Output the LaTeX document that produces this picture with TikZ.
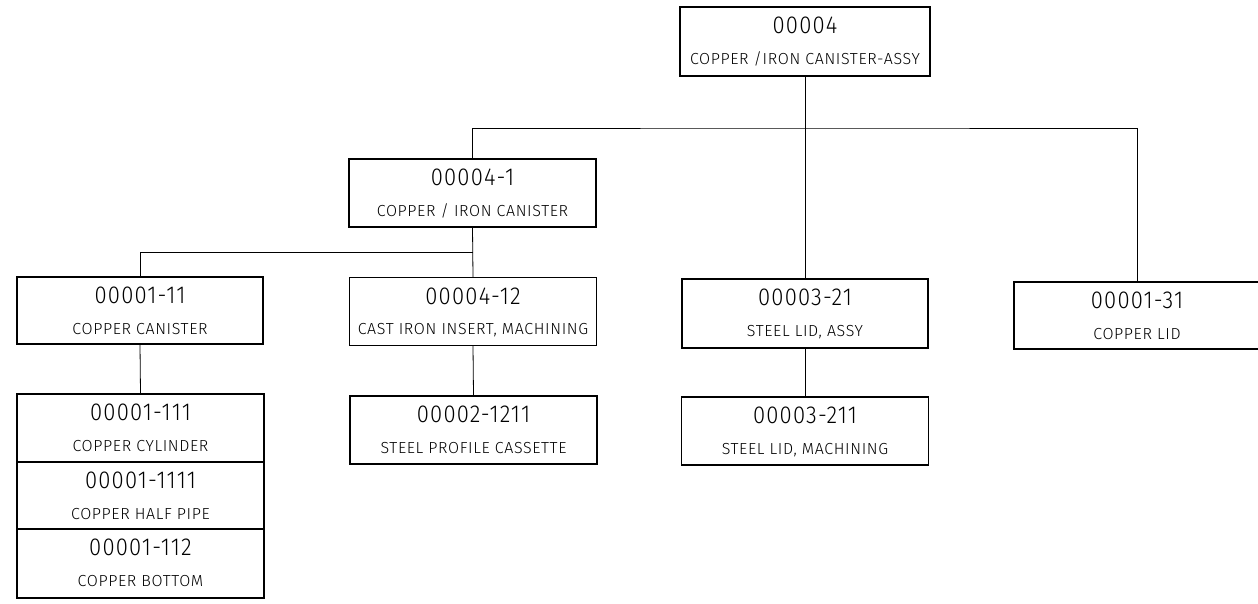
\documentclass[tikz,border=0pt]{standalone}
\usepackage{fontspec}
\setmainfont{Fira Sans Light}[LetterSpace=4]
\newfontfamily\numfont{Fira Sans Light}[FakeStretch=0.9,LetterSpace=5]
\begin{document}
\begin{tikzpicture}[x=1pt,y=-1pt,
  box/.style={draw, line width=1.1pt, rectangle, inner sep=0pt, minimum width=247pt, minimum height=68pt},
  num/.style={inner sep=0pt, text height=17pt, text depth=0pt, font=\numfont\fontsize{24.5}{24.5}\selectfont},
  desc/.style={inner sep=0pt, text height=11pt, text depth=0pt, font=\fontsize{16}{16}\selectfont},
  conn/.style={draw, line width=0.8pt}]
\useasboundingbox (0,0) rectangle (1258,604);
% boxes
\node[box, minimum width=250pt, minimum height=69pt] (top) at (805,41.5) {};
\node[box] (n1) at (472.5,193) {};
\node[box, minimum width=246pt, minimum height=67pt] (n11) at (140,310.5) {};
\node[box] (n12) at (473,311.5) {};
\node[box, minimum width=246pt, minimum height=69pt] (n21) at (805,313.5) {};
\node[box, minimum width=246pt, minimum height=67pt] (n31) at (1137,315.5) {};
\node[box, minimum height=68pt] (n111) at (140.5,428) {};
\node[box, minimum height=67pt] (n1111) at (140.5,495.5) {};
\node[box, minimum height=69pt] (n112) at (140.5,563.5) {};
\node[box] (n1211) at (473.5,430) {};
\node[box] (n211) at (805,431) {};
% texts
\foreach \b/\n/\d in {top/00004/{COPPER /IRON CANISTER-ASSY},
                      n1/00004-1/{COPPER / IRON CANISTER},
                      n11/00001-11/{COPPER CANISTER},
                      n12/00004-12/{CAST IRON INSERT, MACHINING},
                      n21/00003-21/{STEEL LID, ASSY},
                      n31/00001-31/{COPPER LID},
                      n111/00001-111/{COPPER CYLINDER},
                      n1111/00001-1111/{COPPER HALF PIPE},
                      n112/00001-112/{COPPER BOTTOM},
                      n1211/00002-1211/{STEEL PROFILE CASSETTE},
                      n211/00003-211/{STEEL LID, MACHINING}}{
  \node[num] (\b-num) at ([yshift=-19pt]\b.north) {\n};
  \node[desc] (\b-desc) at ([yshift=-52.5pt]\b.north) {\d};
}
% connectors
\coordinate (bus1) at (805,128);
\coordinate (bus2) at (473,252);
\draw[conn] (top.south) -- (n21.north);
\draw[conn] (n1.north) |- (bus1) -| (n31.north);
\draw[conn] (n1.south) -- (n12.north);
\draw[conn] (n11.north) |- (bus2);
\draw[conn] (n11.south) -- (n111.north);
\draw[conn] (n12.south) -- (n1211.north);
\draw[conn] (n21.south) -- (n211.north);
\end{tikzpicture}
\end{document}
